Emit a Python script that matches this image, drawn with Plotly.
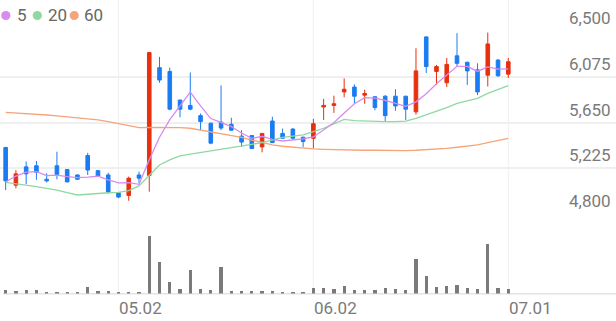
import plotly.graph_objects as go

W, H = 616, 321

# ---------------- data ----------------
idx = list(range(50))
opens = [5420, 5070, 5240, 5250, 5125, 5250, 5215, 5165, 5345, 5205,
         5165, 5000, 4975, 5165, 5160, 6160, 6125, 5860, 5810, 5715,
         5645, 5655, 5635, 5525, 5530, 5425, 5665, 5550, 5590, 5515,
         5505, 5795, 5810, 5935, 5980, 5905, 5890, 5895, 5895, 5895,
         5750, 6445, 6125, 6020, 6270, 6210, 6140, 6090, 6230, 6100]
highs = [5425, 5210, 5290, 5295, 5180, 5380, 5220, 5170, 5370, 5210,
         5185, 5005, 5150, 5195, 6300, 6260, 6160, 5860, 6115, 5735,
         5650, 5995, 5695, 5580, 5535, 5550, 5705, 5595, 5600, 5520,
         5685, 5870, 5900, 6060, 6005, 5955, 5895, 5905, 5960, 5900,
         6340, 6450, 6185, 6250, 6480, 6215, 6200, 6485, 6240, 6250]
lows = [5025, 5040, 5080, 5120, 5095, 5125, 5100, 5120, 5165, 5150,
        4990, 4950, 4925, 5090, 5010, 6020, 5765, 5700, 5765, 5580,
        5450, 5580, 5575, 5425, 5405, 5375, 5460, 5500, 5495, 5425,
        5410, 5675, 5740, 5885, 5825, 5825, 5765, 5665, 5760, 5675,
        5725, 6110, 6000, 5980, 6175, 6000, 5905, 5985, 6075, 6065]
closes = [5110, 5175, 5175, 5190, 5110, 5170, 5100, 5125, 5210, 5155,
          5005, 4960, 5135, 5135, 6300, 6045, 5775, 5775, 5775, 5660,
          5460, 5600, 5580, 5470, 5410, 5550, 5465, 5505, 5505, 5475,
          5640, 5810, 5825, 5960, 5895, 5920, 5790, 5715, 5805, 5775,
          6130, 6170, 6170, 6190, 6200, 6130, 5935, 6380, 6085, 6215]
volumes = [40, 27, 37, 37, 20, 20, 20, 20, 73, 30,
           30, 20, 20, 20, 577, 317, 120, 50, 240, 47,
           40, 273, 33, 30, 30, 30, 33, 23, 20, 17,
           57, 63, 53, 83, 40, 40, 40, 60, 50, 40,
           350, 177, 73, 83, 93, 57, 47, 500, 57, 47]
ma5 = [5100, 5155, 5192, 5195, 5158, 5164, 5150, 5140, 5145, 5153,
       5120, 5091, 5093, 5078, 5306, 5515, 5678, 5805, 5933, 5805,
       5688, 5653, 5614, 5554, 5504, 5522, 5495, 5480, 5487, 5499,
       5517, 5586, 5649, 5740, 5825, 5882, 5877, 5856, 5825, 5801,
       5843, 5919, 6010, 6087, 6172, 6172, 6125, 6167, 6146, 6149]
ma20 = [5097, 5081, 5072, 5056, 5041, 5025, 5000, 4979, 4986, 4995,
        5000, 5004, 5019, 5063, 5165, 5257, 5304, 5341, 5359, 5375,
        5390, 5406, 5421, 5433, 5449, 5464, 5489, 5514, 5526, 5536,
        5566, 5598, 5638, 5681, 5668, 5663, 5659, 5659, 5659, 5665,
        5690, 5721, 5752, 5789, 5829, 5854, 5876, 5922, 5959, 5993]
ma60 = [5746, 5741, 5735, 5727, 5721, 5712, 5702, 5696, 5687, 5675,
        5659, 5642, 5619, 5603, 5605, 5605, 5605, 5603, 5598, 5582,
        5566, 5551, 5533, 5514, 5489, 5464, 5443, 5431, 5421, 5413,
        5406, 5403, 5399, 5396, 5395, 5394, 5394, 5392, 5391, 5391,
        5394, 5399, 5406, 5412, 5422, 5433, 5443, 5464, 5483, 5505]
price_ticks = [4800, 5225, 5650, 6075, 6500]
date_pos = [11, 30, 49]
date_labels = ["05.02", "06.02", "07.01"]
legend_names = ["5", "20", "60"]

# ---------------- style ----------------
RED = "#e8300e"
BLUE = "#1b7cf2"
C5, C20, C60 = "#d68cef", "#8fd9a1", "#f7a47b"
GRID = "#efefef"
FONT = "Roboto"

def px_x(p):
    return p / W

def px_y(p):
    return 1 - p / H

fig = go.Figure()

for vals, col in [(ma60, C60), (ma20, C20), (ma5, C5)]:
    fig.add_trace(go.Scatter(x=idx, y=vals, mode="lines",
                             line=dict(color=col, width=1.3),
                             hoverinfo="skip", showlegend=False))

fig.add_trace(go.Candlestick(
    x=idx, open=opens, high=highs, low=lows, close=closes,
    increasing=dict(line=dict(color=RED, width=1), fillcolor=RED),
    decreasing=dict(line=dict(color=BLUE, width=1), fillcolor=BLUE),
    whiskerwidth=0, showlegend=False))

fig.add_trace(go.Bar(x=idx, y=volumes, yaxis="y2", width=0.32,
                     marker=dict(color="#7a7a7a", line=dict(width=0)),
                     showlegend=False))

shapes = []
# vertical grid lines
for p in date_pos:
    shapes.append(dict(type="line", xref="x", yref="paper", x0=p, x1=p,
                       y0=px_y(295), y1=1, line=dict(color=GRID, width=1),
                       layer="below"))
# volume baseline
shapes.append(dict(type="line", xref="paper", yref="paper", x0=px_x(3), x1=1,
                   y0=px_y(293.8), y1=px_y(293.8),
                   line=dict(color="#e4e4e4", width=1.5), layer="below"))
# legend dots
dots_cx = [5.8, 37.3, 74.2]
for cx, col in zip(dots_cx, [C5, C20, C60]):
    r = 4.6
    shapes.append(dict(type="circle", xref="paper", yref="paper",
                       x0=px_x(cx - r), x1=px_x(cx + r),
                       y0=px_y(15.5 + r), y1=px_y(15.5 - r),
                       fillcolor=col, line=dict(width=0)))

annotations = []
for tx, name in zip([15, 45.5, 82.3], legend_names):
    annotations.append(dict(xref="paper", yref="paper", x=px_x(tx), y=px_y(15.5),
                            xanchor="left", yanchor="middle", text=name,
                            showarrow=False,
                            font=dict(family=FONT, size=17, color="#666666")))
for v in price_ticks:
    annotations.append(dict(xref="paper", yref="y", x=px_x(612.5), y=v,
                            xanchor="right", yanchor="middle", yshift=13,
                            text=f"{v:,}", showarrow=False,
                            font=dict(family=FONT, size=17, color="#7a7a7a")))
for p, lab in zip(date_pos, date_labels):
    annotations.append(dict(xref="x", yref="paper", x=p, y=px_y(308),
                            xanchor="left", yanchor="middle", xshift=-1,
                            text=lab, showarrow=False,
                            font=dict(family=FONT, size=17, color="#7a7a7a")))

fig.update_layout(
    width=W, height=H,
    margin=dict(l=0, r=0, t=0, b=0),
    paper_bgcolor="white", plot_bgcolor="white",
    boxgap=0.5,
    bargap=0,
    showlegend=False,
    shapes=shapes,
    annotations=annotations,
    xaxis=dict(range=[-0.55, 59.5], showgrid=False, zeroline=False,
               showticklabels=False, ticks="", showline=False,
               rangeslider=dict(visible=False), fixedrange=True),
    yaxis=dict(domain=[px_y(214.3), px_y(31)], range=[price_ticks[0], price_ticks[-1]],
               tickvals=price_ticks, showticklabels=False, showgrid=True,
               gridcolor=GRID, gridwidth=1.5, zeroline=False, showline=False,
               ticks=""),
    yaxis2=dict(domain=[px_y(293.5), px_y(233.5)], range=[0, 600],
                showgrid=False, zeroline=False, showticklabels=False,
                showline=False, ticks=""),
    font=dict(family=FONT),
)

fig.write_html("out.html")
